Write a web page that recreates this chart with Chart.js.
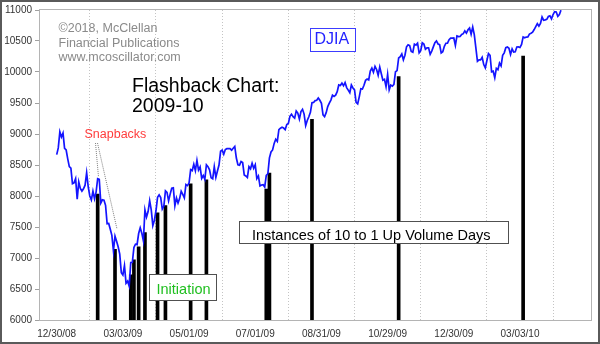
<!DOCTYPE html>
<html>
<head>
<meta charset="utf-8">
<script src="https://cdn.jsdelivr.net/npm/chart.js@4/dist/chart.umd.min.js"></script>
<style>
  html, body { margin: 0; padding: 0; background: #fff; }
  #chart { display: block; }
</style>
</head>
<body>
<canvas id="chart" width="600" height="344"></canvas>
<script>
// DJIA daily closes, one value per trading day starting 12/30/08
const djia = [
    8668, 8776, 9034, 8952, 9015, 8769, 8742, 8599, 8474, 8448,
    8200, 8212, 8281, 7949, 8228, 8123, 8077, 8116, 8175, 8375,
    8149, 8001, 7936, 8078, 7956, 8063, 8280, 8270, 7888, 7939,
    7933, 7850, 7553, 7556, 7465, 7366, 7115, 7351, 7270, 7182,
    7063, 6763, 6726, 6876, 6594, 6627, 6547, 6926, 6930, 7170,
    7223, 7216, 7395, 7486, 7400, 7278, 7776, 7660, 7749, 7924,
    7776, 7522, 7609, 7762, 7979, 8018, 7975, 7789, 7837, 8083,
    8058, 7921, 8030, 8125, 8131, 7842, 7969, 7887, 7958, 8076,
    8025, 7970, 8186, 8168, 8212, 8426, 8410, 8512, 8409, 8575,
    8418, 8469, 8284, 8331, 8268, 8504, 8474, 8422, 8293, 8277,
    8473, 8300, 8403, 8500, 8721, 8740, 8675, 8750, 8764, 8764,
    8763, 8739, 8770, 8799, 8612, 8504, 8497, 8555, 8539, 8340,
    8323, 8299, 8472, 8438, 8529, 8447, 8504, 8280, 8324, 8163,
    8178, 8183, 8146, 8331, 8359, 8616, 8711, 8743, 8848, 8916,
    8881, 9069, 9093, 9108, 9096, 9070, 9154, 9171, 9286, 9320,
    9280, 9256, 9370, 9337, 9241, 9362, 9398, 9321, 9135, 9217,
    9279, 9350, 9505, 9509, 9539, 9543, 9580, 9544, 9496, 9310,
    9280, 9344, 9441, 9497, 9547, 9627, 9605, 9626, 9683, 9791,
    9783, 9820, 9778, 9829, 9748, 9707, 9665, 9789, 9742, 9712,
    9509, 9487, 9599, 9731, 9725, 9786, 9865, 9885, 9871, 10015,
    10062, 9995, 10092, 10041, 9949, 10081, 9972, 9868, 9882, 9762,
    9962, 9712, 9789, 9771, 9802, 10005, 10023, 10226, 10247, 10291,
    10197, 10270, 10406, 10437, 10426, 10332, 10318, 10450, 10433, 10464,
    10309, 10344, 10471, 10452, 10366, 10388, 10390, 10286, 10337, 10405,
    10471, 10501, 10452, 10441, 10308, 10328, 10414, 10464, 10466, 10520,
    10547, 10545, 10548, 10428, 10583, 10572, 10573, 10606, 10618, 10663,
    10627, 10680, 10710, 10609, 10725, 10603, 10389, 10172, 10196, 10194,
    10236, 10120, 10067, 10185, 10297, 10270, 10002, 10012, 9908, 10058,
    10038, 10144, 10099, 10268, 10309, 10392, 10402, 10383, 10282, 10374,
    10321, 10325, 10403, 10405, 10396, 10444, 10566, 10553, 10564, 10567,
    10611, 10625, 10642, 10685, 10733, 10779, 10741, 10785, 10888, 10836,
    10841, 10850, 10895, 10907, 10857, 10927, 10973, 10969, 10897, 10927,
    10997
];

// 10-to-1 up volume days: trading-day index and bar height
const upDays = [26, 37, 47, 49, 52, 56, 64, 69, 85, 95, 133, 135, 162, 217, 296];
const upTops = [8030, 7140, 6730, 6970, 7180, 7410, 7730, 7845, 8195, 8260, 8110, 8370, 9235, 9925, 10258];

// x axis ticks (trading-day index) and their date labels
const tickDays = [0, 42, 84, 126, 168, 210, 252, 294];
const tickLabels = ['12/30/08', '03/03/09', '05/01/09', '07/01/09', '08/31/09', '10/29/09', '12/30/09', '03/03/10'];

const FONT = 'Liberation Sans, Arial, Helvetica, sans-serif';

function textBox(ctx, x, y, w, h, stroke) {
    ctx.fillStyle = '#fff';
    ctx.fillRect(x, y, w, h);
    ctx.strokeStyle = stroke;
    ctx.lineWidth = 1;
    ctx.strokeRect(x + 0.5, y + 0.5, w - 1, h - 1);
}

const decor = {
    id: 'decor',
    beforeDraw(chart) {
        const ctx = chart.ctx;
        ctx.save();
        ctx.fillStyle = '#fff';
        ctx.fillRect(0, 0, chart.width, chart.height);
        ctx.restore();
    },
    afterDraw(chart) {
        const { ctx, chartArea: a } = chart;
        ctx.save();

        // plot frame
        ctx.strokeStyle = '#b4b4b4';
        ctx.lineWidth = 1;
        ctx.strokeRect(a.left - 0.5, a.top - 0.5, a.right - a.left, a.bottom - a.top + 1);

        // outer frame
        ctx.strokeStyle = '#5a5a5a';
        ctx.lineWidth = 2;
        ctx.strokeRect(1, 1, chart.width - 2, chart.height - 2);

        // copyright
        ctx.fillStyle = '#8a8a8a';
        ctx.font = '12.5px ' + FONT;
        ctx.textBaseline = 'alphabetic';
        ctx.fillText('\u00A92018, McClellan', 58.5, 32);
        ctx.fillText('Financial Publications', 58.5, 46.5);
        ctx.fillText('www.mcoscillator.com', 58.5, 61);

        // title
        ctx.fillStyle = '#000';
        ctx.font = '19.5px ' + FONT;
        ctx.fillText('Flashback Chart:', 132, 92);
        ctx.fillText('2009-10', 132, 112);

        // DJIA label
        textBox(ctx, 310, 28, 46, 24, '#3c3cff');
        ctx.fillStyle = '#2424ff';
        ctx.font = '16px ' + FONT;
        ctx.fillText('DJIA', 314.5, 44);

        // snapbacks note with leader lines
        ctx.fillStyle = '#ff3c3c';
        ctx.font = '12.5px ' + FONT;
        ctx.fillText('Snapbacks', 84.5, 137.5);
        ctx.strokeStyle = '#808080';
        ctx.lineWidth = 1;
        ctx.setLineDash([1, 1]);
        ctx.beginPath();
        ctx.moveTo(95.5, 143);
        ctx.lineTo(98.5, 177);
        ctx.moveTo(97.5, 143);
        ctx.lineTo(117, 229);
        ctx.stroke();
        ctx.setLineDash([]);

        // volume days caption
        textBox(ctx, 239, 221, 270, 23, '#505050');
        ctx.fillStyle = '#000';
        ctx.font = '14.5px ' + FONT;
        ctx.fillText('Instances of 10 to 1 Up Volume Days', 252, 239.5);

        // initiation caption
        textBox(ctx, 149, 274, 68, 27, '#505050');
        ctx.fillStyle = '#1fbf1f';
        ctx.font = '14.5px ' + FONT;
        ctx.fillText('Initiation', 156.5, 293.5);

        ctx.restore();
    }
};

new Chart(document.getElementById('chart'), {
    type: 'line',
    data: {
        datasets: [
            {
                type: 'line',
                data: djia.map((v, i) => ({ x: i, y: v })),
                borderColor: '#1414ff',
                borderWidth: 1.7,
                pointRadius: 0,
                tension: 0,
                order: 1
            },
            {
                type: 'bar',
                data: upDays.map((d, i) => ({ x: d, y: upTops[i] })),
                backgroundColor: '#000',
                barThickness: 3,
                order: 2
            }
        ]
    },
    options: {
        responsive: false,
        animation: false,
        events: [],
        layout: { padding: { left: 0, right: 8, top: 10, bottom: 0 } },
        plugins: { legend: { display: false }, tooltip: { enabled: false } },
        scales: {
            x: {
                type: 'linear',
                min: -10.6,
                max: 339.7,
                offset: false,
                afterBuildTicks: s => { s.ticks = tickDays.map(v => ({ value: v })); },
                afterFit: s => { s.height = 24; },
                ticks: {
                    autoSkip: false,
                    maxRotation: 0,
                    padding: 8,
                    color: '#333',
                    font: { family: FONT, size: 10 },
                    callback: v => tickLabels[tickDays.indexOf(v)]
                },
                grid: { color: '#c4c4c4', drawTicks: false },
                border: { display: false, dash: [1, 2] }
            },
            y: {
                min: 6000,
                max: 11000,
                afterFit: s => { s.width = 40; },
                ticks: {
                    stepSize: 500,
                    padding: 3,
                    color: '#333',
                    font: { family: FONT, size: 10 },
                    callback: v => String(v)
                },
                grid: { drawOnChartArea: false, drawTicks: true, tickLength: 5, tickColor: '#a0a0a0' },
                border: { display: false }
            }
        }
    },
    plugins: [decor]
});
</script>
</body>
</html>
